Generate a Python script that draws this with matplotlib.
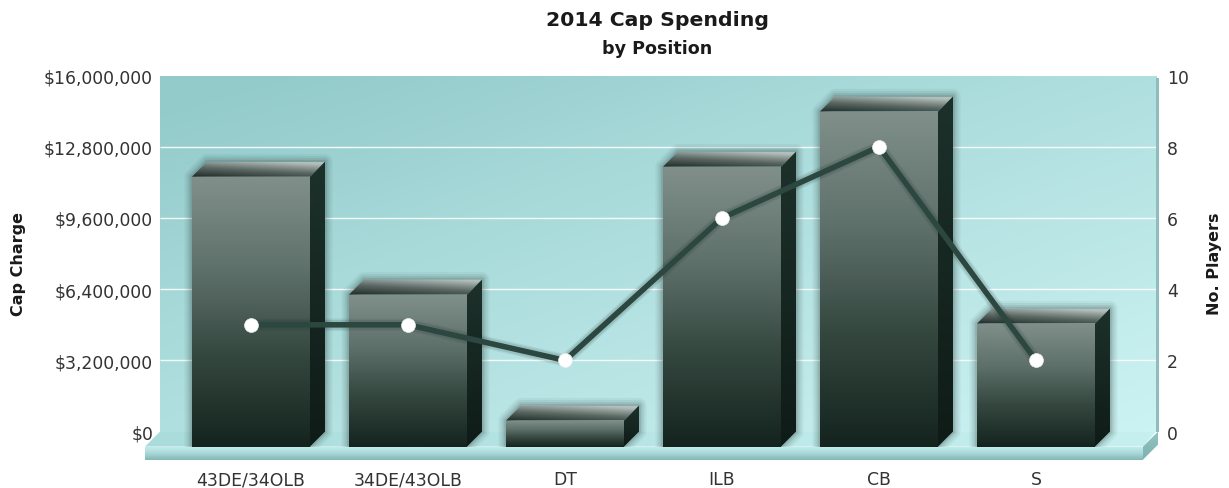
import matplotlib
matplotlib.use('Agg')
import matplotlib.pyplot as plt
from matplotlib.colors import LinearSegmentedColormap
from matplotlib.patches import Polygon, Rectangle
from matplotlib.ticker import FixedLocator
import numpy as np

positions = ['43DE/34OLB', '34DE/43OLB', 'DT', 'ILB', 'CB', 'S']
cap_charge = [12130000, 6830000, 1170000, 12580000, 15060000, 5530000]
num_players = [3, 3, 2, 6, 8, 2]
cap_ticks = [0, 3200000, 6400000, 9600000, 12800000, 16000000]
player_ticks = [0, 2, 4, 6, 8, 10]

W, H = 1229, 489
TEXT = '#333333'
plt.rcParams['font.family'] = ['DejaVu Sans']

fig = plt.figure(figsize=(W / 100, H / 100), dpi=100)
# wall of the fake 3d plot, pixels from the top left of the picture
left, right, top, bottom = 160, 1156, 76.6, 432.6
ax = fig.add_axes([left / W, 1 - bottom / H, (right - left) / W, (bottom - top) / H])

# one category is 157 px wide, first one centred 91 px into the wall
xmin = -91 / 157
xmax = xmin + (right - left) / 157
ymax = cap_ticks[-1]
px_x = 1 / 157
px_y = ymax / (bottom - top)
depth_x = 15 * px_x
depth_y = 15 * px_y
half = 59 / 157


def grad(colors):
    return LinearSegmentedColormap.from_list('g', colors, N=256)


def fill(verts, array, cmap, z, vmin=0, vmax=1):
    verts = np.array(verts)
    ext = [verts[:, 0].min(), verts[:, 0].max(), verts[:, 1].min(), verts[:, 1].max()]
    im = ax.imshow(array, extent=ext, origin='lower', aspect='auto', cmap=cmap,
                   vmin=vmin, vmax=vmax, zorder=z, interpolation='bilinear')
    poly = Polygon(verts, closed=True, transform=ax.transData, fc='none', ec='none')
    ax.add_patch(poly)
    poly.set_clip_on(False)
    # images are cut to the axes unless the clip box is the whole figure
    im.set_clip_box(fig.bbox)
    im.set_clip_path(poly)
    return im


def vertical(n=128):
    return np.linspace(0, 1, n).reshape(-1, 1)


# wall, diagonal gradient
xx, yy = np.meshgrid(np.linspace(0, 1, 200), np.linspace(0, 1, 100))
wall = 0.5 * xx + 0.5 * (1 - yy) + 0.08 * np.clip(0.2 - xx, 0, 1)
wall_cmap = grad(['#93caca', '#a8dada', '#bbe6e6', '#ccf3f3'])
ax.imshow(wall, extent=[xmin, xmax, 0, ymax], origin='lower', aspect='auto',
          cmap=wall_cmap, vmin=0.05, vmax=1.0, zorder=0)

# strip on the right hand edge of the wall
ax.add_patch(Rectangle((xmax, 0), 3 * px_x, ymax - 2 * px_y,
                       fc='#8fbcbc', ec='none', zorder=1, clip_on=False))

for t in cap_ticks[1:-1]:
    ax.plot([xmin, xmax], [t, t], color='white', lw=1, alpha=0.9, zorder=2, solid_capstyle='butt')

# floor: top, front and end faces
f0, f1 = xmin - depth_x, xmax - 13 * px_x
floor_h = 13 * px_y
gx, gy = np.meshgrid(np.linspace(0, 1, 64), np.linspace(0, 1, 8))
fill([(xmin, 0), (xmax, 0), (f1, -depth_y), (f0, -depth_y)], gx,
     grad(['#aadcdc', '#c6f0f0']), 3)
fill([(f0, -depth_y), (f1, -depth_y), (f1, -depth_y - floor_h), (f0, -depth_y - floor_h)],
     vertical(), grad(['#83b6b6', '#a8d6d6', '#c2ecec']), 3)
fill([(f1, -depth_y), (f1 + depth_x, 0), (f1 + depth_x, -floor_h), (f1, -depth_y - floor_h)],
     vertical(), grad(['#7fb0b0', '#93c4c4']), 3)

front_cmap = grad(['#14231e', '#34473f', '#5f716b', '#808f8a'])
side_cmap = grad(['#0f1b17', '#1d312b'])
top_cmap = grad(['#1f2c28', '#5a6763', '#b4bebb'])

for i, v in enumerate(cap_charge):
    x0, x1 = i - half, i + half
    yb = -depth_y
    yt = v - depth_y
    # soft shadow round the whole bar, nothing below the floor edge
    outline = [(x0, yb), (x0, yt), (x0 + depth_x, yt + depth_y), (x1 + depth_x, yt + depth_y),
               (x1 + depth_x, yb + depth_y), (x1, yb)]
    for lw, a in [(11, 0.05), (8, 0.07), (5, 0.09), (2.5, 0.12)]:
        p = Polygon(outline, closed=True, fc='none', ec='#1d2f2a', lw=lw, alpha=a,
                    joinstyle='round', zorder=4)
        ax.add_patch(p)
        p.set_clip_path(Rectangle((xmin - 1, yb), xmax - xmin + 2, ymax * 2, transform=ax.transData))
    # top face: dark at the front left, light at the back right
    gx, gy = np.meshgrid(np.linspace(0, 1, 64), np.linspace(0, 1, 32))
    fill([(x0, yt), (x1, yt), (x1 + depth_x, yt + depth_y), (x0 + depth_x, yt + depth_y)],
         0.35 * gx + 0.75 * gy, top_cmap, 5)
    fill([(x0, yb), (x1, yb), (x1, yt), (x0, yt)], vertical(), front_cmap, 5)
    fill([(x1, yb), (x1 + depth_x, yb + depth_y), (x1 + depth_x, yt + depth_y), (x1, yt)],
         vertical(), side_cmap, 5)

ax.set_xlim(xmin, xmax)
ax.set_ylim(0, ymax)
ax.set_xticks(range(len(positions)))
ax.set_xticklabels(positions, fontsize=12.4, color=TEXT)
ax.set_yticks(cap_ticks)
ax.set_yticklabels(['${:,}'.format(t) for t in cap_ticks], fontsize=12.4, color=TEXT)
ax.tick_params(axis='x', length=0, pad=28)
ax.tick_params(axis='y', length=0, pad=5)
for s in ax.spines.values():
    s.set_visible(False)

# line on the second axis
ax2 = ax.twinx()
ax2.set_ylim(player_ticks[0], player_ticks[-1])
ax2.yaxis.set_major_locator(FixedLocator(player_ticks))
ax2.set_yticklabels([str(t) for t in player_ticks], fontsize=12.4, color=TEXT)
ax2.tick_params(axis='y', length=0, pad=8)
for s in ax2.spines.values():
    s.set_visible(False)
xs = np.arange(len(num_players))
for lw, a in [(9, 0.08), (7, 0.12)]:
    ax2.plot(xs, num_players, color='#1d2f2a', lw=lw, alpha=a, zorder=5, solid_joinstyle='round')
ax2.plot(xs, num_players, color='#2b4740', lw=4, zorder=6, solid_joinstyle='round')
ax2.plot(xs, num_players, ls='none', marker='o', ms=10, mfc='white', mec='#e8f0ee', mew=0.5, zorder=7)

fig.text(657 / W, 1 - 20 / H, '2014 Cap Spending', fontsize=14.7, fontweight='bold', color='#1a1a1a',
         ha='center', va='center')
fig.text(657 / W, 1 - 49 / H, 'by Position', fontsize=12.6, fontweight='bold', color='#1a1a1a',
         ha='center', va='center')
fig.text(19 / W, 1 - 264 / H, 'Cap Charge', fontsize=11.5, fontweight='bold', color='#1a1a1a',
         rotation=90, ha='center', va='center')
fig.text(1215 / W, 1 - 264 / H, 'No. Players', fontsize=11.5, fontweight='bold', color='#1a1a1a',
         rotation=90, ha='center', va='center')

fig.savefig('out.png', dpi=100)
plt.close(fig)
